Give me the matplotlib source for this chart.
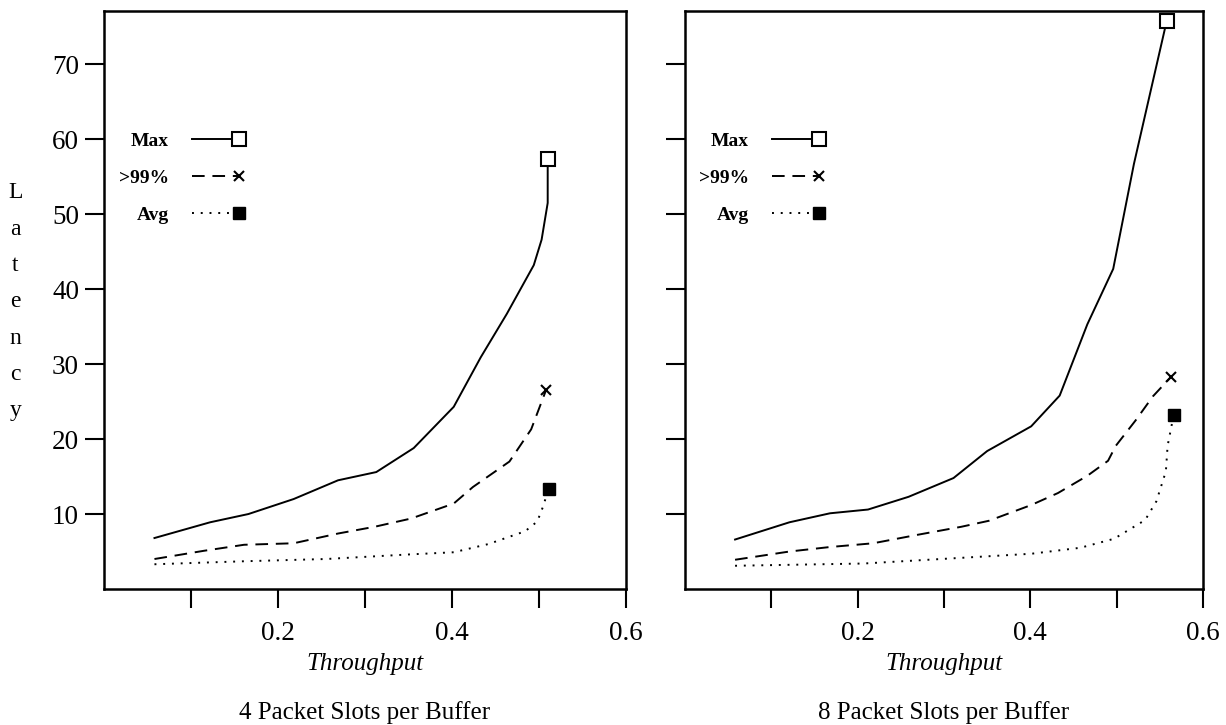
import numpy as np
import matplotlib
matplotlib.use("Agg")
import matplotlib.pyplot as plt
from matplotlib.legend_handler import HandlerLine2D

plt.rcParams['font.family'] = ['Liberation Serif', 'DejaVu Serif']

# ---- data: 4 packet slots per buffer ----
max_x4 = [0.058, 0.122, 0.166, 0.218, 0.269, 0.313, 0.356, 0.402, 0.433, 0.463, 0.494, 0.503, 0.510, 0.510]
max_y4 = [6.8, 8.9, 10.0, 12.0, 14.5, 15.6, 18.8, 24.3, 30.9, 36.7, 43.2, 46.6, 51.5, 57.4]
p99_x4 = [0.058, 0.115, 0.161, 0.218, 0.269, 0.311, 0.353, 0.402, 0.424, 0.466, 0.491, 0.508]
p99_y4 = [4.0, 5.1, 5.9, 6.1, 7.4, 8.3, 9.4, 11.4, 13.6, 17.0, 21.3, 26.5]
avg_x4 = [0.058, 0.161, 0.255, 0.349, 0.402, 0.442, 0.484, 0.498, 0.505, 0.511]
avg_y4 = [3.3, 3.7, 4.0, 4.6, 4.9, 6.0, 7.7, 9.0, 11.1, 13.4]

# ---- data: 8 packet slots per buffer ----
max_x8 = [0.058, 0.121, 0.168, 0.212, 0.259, 0.311, 0.350, 0.401, 0.434, 0.466, 0.496, 0.520, 0.558]
max_y8 = [6.6, 8.9, 10.1, 10.6, 12.3, 14.8, 18.4, 21.7, 25.8, 35.3, 42.7, 56.7, 75.8]
p99_x8 = [0.058, 0.121, 0.168, 0.218, 0.268, 0.320, 0.352, 0.401, 0.432, 0.466, 0.490, 0.499, 0.522, 0.542, 0.563]
p99_y8 = [3.9, 5.0, 5.6, 6.1, 7.2, 8.3, 9.1, 11.2, 12.8, 15.1, 17.1, 19.1, 22.5, 25.7, 28.3]
avg_x8 = [0.058, 0.207, 0.401, 0.458, 0.497, 0.533, 0.546, 0.557, 0.559, 0.566]
avg_y8 = [3.1, 3.4, 4.7, 5.5, 6.7, 9.2, 11.7, 15.7, 19.1, 23.2]

series_labels = ["Max", ">99%", "Avg"]
panel_titles = ["4 Packet Slots per Buffer", "8 Packet Slots per Buffer"]
y_ticks = [10, 20, 30, 40, 50, 60, 70]
x_major = [0.2, 0.4, 0.6]
x_minor = [0.1, 0.3, 0.5]


class EndMarkerHandler(HandlerLine2D):
    """Legend key with the marker at the right end of the line."""
    def create_artists(self, legend, orig_handle, xdescent, ydescent, width,
                       height, fontsize, trans):
        artists = super().create_artists(legend, orig_handle, xdescent, ydescent,
                                         width, height, fontsize, trans)
        for a in artists:
            a.set_markevery([2])
        return artists


fig = plt.figure(figsize=(12.26, 7.25), dpi=100)
W, H = 1226, 725
axL = fig.add_axes([104 / W, 1 - 589 / H, 522 / W, 578 / H])
axR = fig.add_axes([685 / W, 1 - 589 / H, 518 / W, 578 / H])

panels = [
    (axL, (max_x4, max_y4), (p99_x4, p99_y4), (avg_x4, avg_y4), panel_titles[0]),
    (axR, (max_x8, max_y8), (p99_x8, p99_y8), (avg_x8, avg_y8), panel_titles[1]),
]

lw = 1.4
for i, (ax, mx, px, av, title) in enumerate(panels):
    l1, = ax.plot(mx[0], mx[1], color='black', lw=lw, ls='-', marker='s', markevery=[-1],
                  markersize=9.5, markerfacecolor='white', markeredgecolor='black',
                  markeredgewidth=1.5, label=series_labels[0], zorder=3)
    l2, = ax.plot(px[0], px[1], color='black', lw=lw, ls=(0, (6.5, 4)), marker='x',
                  markevery=[-1], markersize=7, markeredgewidth=1.5,
                  label=series_labels[1], zorder=3)
    l3, = ax.plot(av[0], av[1], color='black', lw=lw, ls=(0, (1, 3.5)), marker='s',
                  markevery=[-1], markersize=8, markerfacecolor='black',
                  markeredgecolor='black', label=series_labels[2], zorder=3)

    ax.set_xlim(0, 0.6)
    ax.set_ylim(0, 77.1)
    ax.set_xticks(x_major)
    ax.set_xticks(x_minor, minor=True)
    ax.set_xticklabels([f"{v:.1f}" for v in x_major])
    ax.set_yticks(y_ticks)
    if i == 0:
        ax.set_yticklabels([str(v) for v in y_ticks])
    else:
        ax.set_yticklabels([])
    ax.tick_params(axis='both', which='both', direction='out', length=14,
                   width=1.5, labelsize=19.5, color='black')
    ax.tick_params(axis='x', which='both', pad=9)
    ax.tick_params(axis='y', which='both', pad=4)
    ax.tick_params(top=False, right=False)
    for sp in ax.spines.values():
        sp.set_linewidth(1.8)
        sp.set_color('black')

    ax.set_xlabel("Throughput", fontsize=18, style='italic', labelpad=5)
    ax.text(0.5, -0.214, title, transform=ax.transAxes, ha='center', va='center',
            fontsize=18)

    ax.legend(handles=[l1, l2, l3], loc='center', bbox_to_anchor=(0.143, 0.711),
              frameon=False, markerfirst=False, numpoints=1, handlelength=2.4,
              handletextpad=1.2, labelspacing=1.0, borderpad=0,
              prop={'size': 14, 'weight': 'bold'},
              handler_map={l1: EndMarkerHandler(), l2: EndMarkerHandler(),
                           l3: EndMarkerHandler()})

axL.set_ylabel("L\na\nt\ne\nn\nc\ny", rotation=0, fontsize=17, ha='center',
               va='center', linespacing=1.96)
axL.yaxis.set_label_coords(-0.170, 0.497)

fig.savefig("out.png", dpi=100)
